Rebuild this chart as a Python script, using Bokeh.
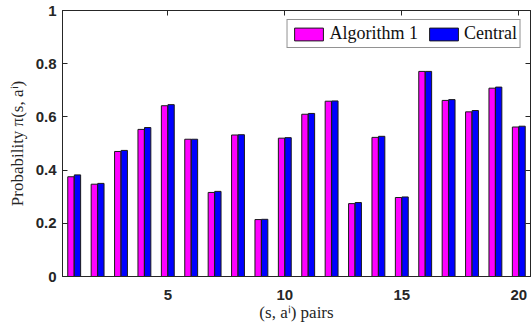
from bokeh.plotting import figure
from bokeh.models import (ColumnDataSource, FixedTicker, LinearAxis, Range1d, Legend,
                          LegendItem, CustomLabelingPolicy)
from bokeh.embed import file_html
from bokeh.resources import INLINE

pairs = list(range(1, 21))
alg1 = [0.375, 0.347, 0.470, 0.553, 0.642, 0.516, 0.316, 0.532, 0.214, 0.520,
        0.610, 0.659, 0.274, 0.523, 0.297, 0.771, 0.662, 0.619, 0.708, 0.562]
central = [0.382, 0.350, 0.474, 0.560, 0.646, 0.516, 0.320, 0.533, 0.215, 0.522,
           0.613, 0.660, 0.278, 0.527, 0.299, 0.771, 0.665, 0.624, 0.712, 0.565]
y_ticks = [0, 0.2, 0.4, 0.6, 0.8, 1]
y_tick_labels = ["0", "0.2", "0.4", "0.6", "0.8", "1"]
x_ticks = [5, 10, 15, 20]

BAR_W = 0.27
OFF = 0.14

src = ColumnDataSource(dict(
    x1=[p - OFF for p in pairs], x2=[p + OFF for p in pairs],
    a=alg1, c=central))

p = figure(width=531, height=324, output_backend="svg", toolbar_location=None,
           x_range=Range1d(0.5, 20.5), y_range=Range1d(0, 1),
           min_border_left=62, min_border_top=10, min_border_right=1, min_border_bottom=0)
p.grid.visible = False
p.outline_line_color = "#262626"
p.background_fill_color = "white"
p.border_fill_color = "white"

r1 = p.vbar(x="x1", top="a", width=BAR_W, source=src, fill_color="#ff00ff",
            line_color="#1a1a1a", line_width=1)
r2 = p.vbar(x="x2", top="c", width=BAR_W, source=src, fill_color="#0000ff",
            line_color="#1a1a1a", line_width=1)

tick_font = "Liberation Sans"
for ax in p.yaxis:
    ax.ticker = FixedTicker(ticks=y_ticks)
    ax.major_label_overrides = {float(t): l for t, l in zip(y_ticks, y_tick_labels)}
    ax.axis_label = "Probability π(s, aⁱ)"
    ax.major_label_standoff = 6
    ax.axis_label_standoff = 6
for ax in p.xaxis:
    ax.ticker = FixedTicker(ticks=x_ticks)
    ax.axis_label = "(s, aⁱ) pairs"
    ax.major_label_standoff = 13
    ax.axis_label_standoff = 0
for ax in p.xaxis + p.yaxis:
    ax.major_label_text_font = tick_font
    ax.major_label_text_font_style = "bold"
    ax.major_label_text_font_size = "15px"
    ax.major_label_text_color = "#262626"
    ax.axis_label_text_font = "Liberation Serif"
    ax.axis_label_text_font_style = "normal"
    ax.axis_label_text_font_size = "17px"
    ax.axis_label_text_color = "#262626"
    ax.axis_line_color = "#262626"
    ax.major_tick_line_color = "#262626"
    ax.major_tick_in = 5
    ax.major_tick_out = 0
    ax.minor_tick_line_color = None

hide_code = "for (let i = 0; i < indices.size; i++) { indices.unset(i) }\nreturn indices"
top_ax = LinearAxis(ticker=FixedTicker(ticks=x_ticks),
                    major_label_overrides={float(t): "" for t in x_ticks},
                    major_label_policy=CustomLabelingPolicy(code=hide_code),
                    major_tick_in=5, major_tick_out=0, minor_tick_line_color=None,
                    major_label_standoff=0, axis_line_color="#262626",
                    major_tick_line_color="#262626")
right_ax = LinearAxis(ticker=FixedTicker(ticks=y_ticks),
                      major_label_overrides={float(t): "" for t in y_ticks},
                      major_label_policy=CustomLabelingPolicy(code=hide_code),
                      major_tick_in=5, major_tick_out=0, minor_tick_line_color=None,
                      major_label_standoff=0, axis_line_color="#262626",
                      major_tick_line_color="#262626")
p.add_layout(top_ax, "above")
p.add_layout(right_ax, "right")

legend = Legend(items=[LegendItem(label="Algorithm 1", renderers=[r1]),
                       LegendItem(label="Central", renderers=[r2])],
                orientation="horizontal", location="top_right",
                label_text_font="Liberation Serif", label_text_font_size="18px",
                label_text_color="#111111",
                glyph_width=36, glyph_height=16, padding=3, spacing=7,
                label_standoff=3, margin=9, border_line_color="#262626",
                border_line_width=1, label_height=16)
p.add_layout(legend)

open("out.html", "w").write(file_html(p, INLINE))
